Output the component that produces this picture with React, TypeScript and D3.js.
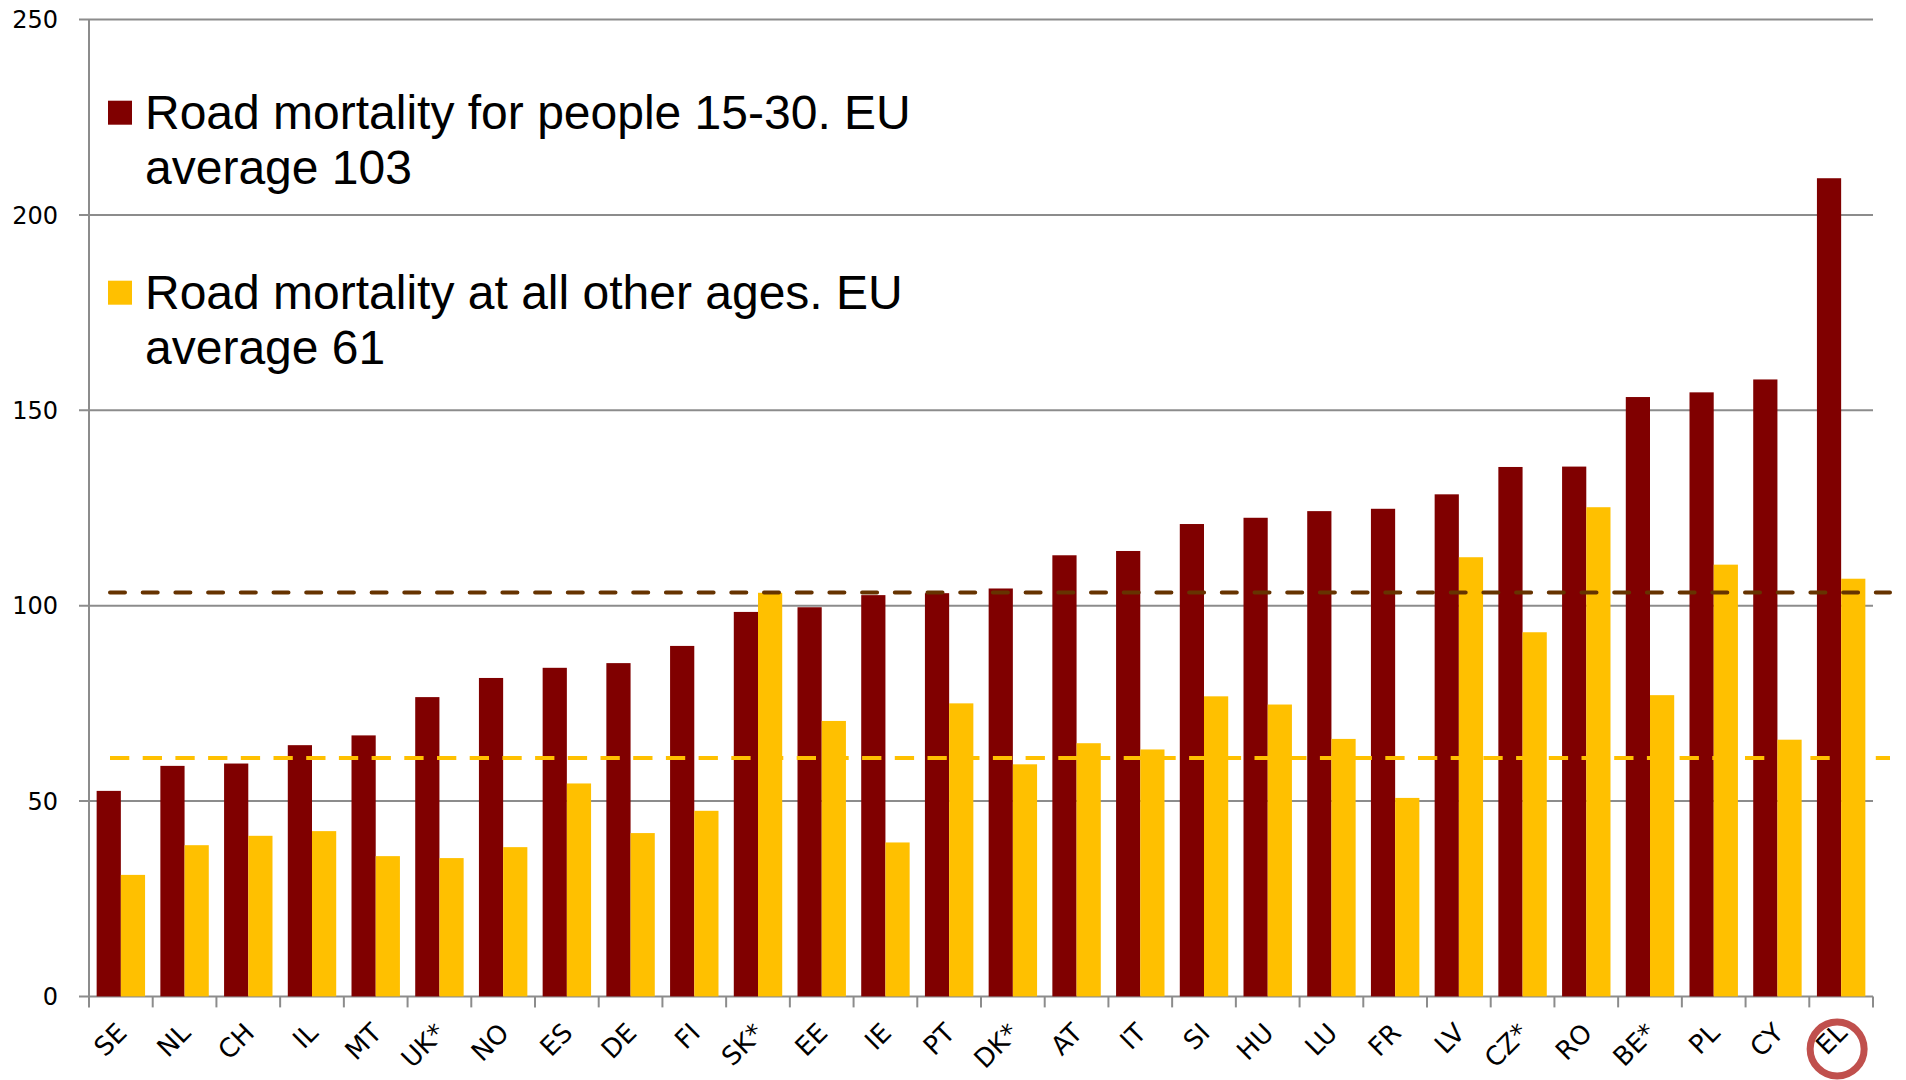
import React from "react";
import * as d3 from "d3";

const countries = ["SE","NL","CH","IL","MT","UK*","NO","ES","DE","FI","SK*","EE","IE","PT","DK*","AT","IT","SI","HU","LU","FR","LV","CZ*","RO","BE*","PL","CY","EL"];
const youngValues = [52.6,59.0,59.6,64.3,66.8,76.6,81.5,84.1,85.3,89.7,98.4,99.6,102.7,103.2,104.4,112.9,114.0,120.9,122.5,124.2,124.8,128.5,135.5,135.6,153.4,154.6,157.9,209.4];
const otherValues = [31.1,38.7,41.1,42.3,35.9,35.4,38.2,54.5,41.8,47.5,103.3,70.5,39.4,75.0,59.4,64.8,63.2,76.8,74.7,65.9,50.8,112.4,93.2,125.2,77.1,110.5,65.7,106.9];
const yTicks = [0, 50, 100, 150, 200, 250];
const seriesNames = ["young", "other"];
const legendLines = [
  ["Road mortality for people 15-30. EU", "average 103"],
  ["Road mortality at all other ages. EU", "average 61"],
];
const averages = [103.4, 61];
const highlighted = "EL";

const W = 1906, H = 1080;
const colors = ["#800000", "#FFC000"];
const avgColors = ["#663300", "#FFC000"];

export default function App() {
  const x0 = 89, x1 = 1873;
  const y = d3.scaleLinear().domain([0, 250]).range([996.4, 19.6]);
  const x = d3.scaleBand<string>().domain(countries).range([x0, x1]).paddingInner(0.24).paddingOuter(0.12);
  const xs = d3.scaleBand<string>().domain(seriesNames).range([0, x.bandwidth()]).padding(0);
  const step = x.step();
  const boundaries = d3.range(countries.length + 1).map((i) => x0 + i * step);
  const values = [youngValues, otherValues];
  const grid = "#8c8c8c";
  const tickFont = "'DejaVu Sans', sans-serif";

  return (
    <svg width={W} height={H} style={{ position: "absolute", left: 0, top: 0, background: "#fff" }}>
      {yTicks.map((t) => (
        <g key={t}>
          <line x1={79} x2={x1} y1={y(t)} y2={y(t)} stroke={grid} strokeWidth={2} />
          <text x={58} y={y(t)} dy="0.36em" textAnchor="end" fontFamily={tickFont} fontSize={24} fill="#000">{t}</text>
        </g>
      ))}
      <line x1={x0} x2={x0} y1={y(250)} y2={y(0)} stroke={grid} strokeWidth={2} />
      {boundaries.map((b, i) => (
        <line key={i} x1={b} x2={b} y1={y(0)} y2={y(0) + 11} stroke={grid} strokeWidth={2} />
      ))}
      {countries.map((c, i) => (
        <g key={c} transform={`translate(${x(c)},0)`}>
          {seriesNames.map((s, k) => (
            <rect key={s} x={xs(s)} y={y(values[k][i])} width={xs.bandwidth()} height={y(0) - y(values[k][i])} fill={colors[k]} />
          ))}
        </g>
      ))}
      {averages.map((a, k) => (
        <line key={k} x1={110} x2={1890} y1={y(a)} y2={y(a)} stroke={avgColors[k]} strokeWidth={4}
          strokeDasharray={k === 0 ? "15 17.7" : "19.3 13.4"} strokeLinecap={k === 0 ? "round" : "butt"} />
      ))}
      {countries.map((c) => {
        const cx = (x(c) as number) + x.bandwidth() / 2;
        return (
          <text key={c} transform={`translate(${cx + 1},1028) rotate(-45)`} dy="0.35em" textAnchor="end"
            fontFamily={tickFont} fontSize={26} fill="#000">{c}</text>
        );
      })}
      {(() => {
        const cx = (x(highlighted) as number) + x.bandwidth() / 2 - 4;
        return <circle cx={cx} cy={1049} r={27} fill="none" stroke="#C0504D" strokeWidth={7} />;
      })()}
      {legendLines.map((lines, k) => {
        const base = k === 0 ? 129.3 : 309.3;
        return (
          <g key={k}>
            <rect x={108} y={base - 28.6} width={24} height={24} fill={colors[k]} />
            {lines.map((ln, j) => (
              <text key={j} x={145} y={base + j * 54.5} fontFamily="'Liberation Sans', Arial, sans-serif" fontSize={48} fill="#000">{ln}</text>
            ))}
          </g>
        );
      })}
    </svg>
  );
}
